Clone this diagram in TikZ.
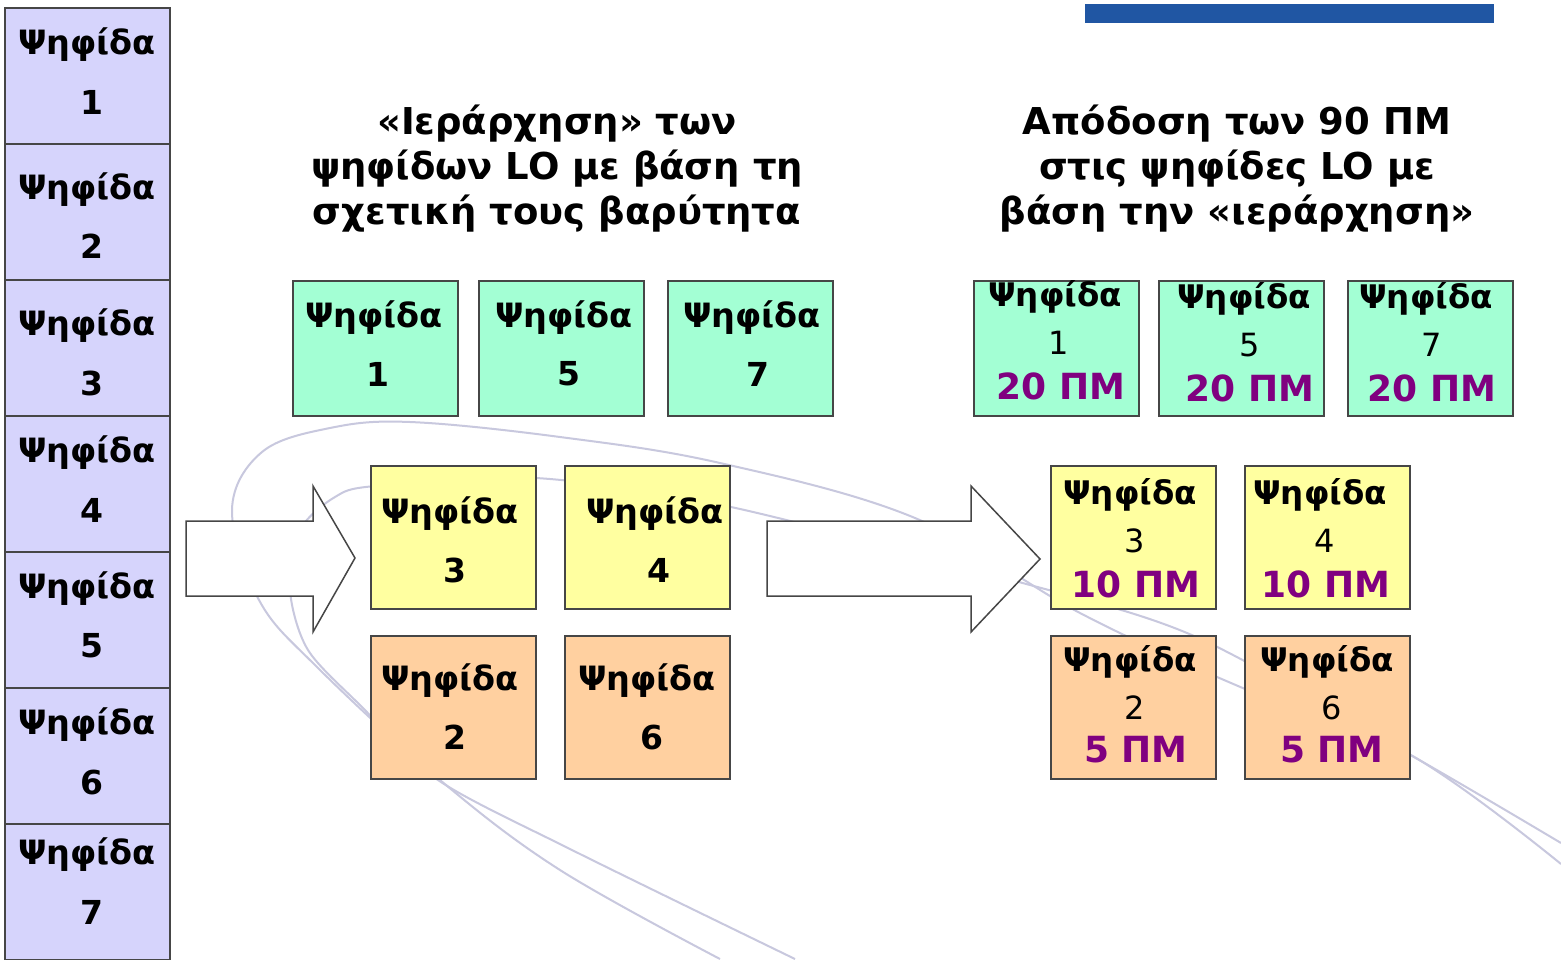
\documentclass[tikz,border=0pt]{standalone}
\usepackage{fontspec}
\setmainfont{DejaVu Sans}
\definecolor{lav}{RGB}{214,212,252}
\definecolor{mint}{RGB}{163,255,212}
\definecolor{lyel}{RGB}{255,255,160}
\definecolor{peach}{RGB}{255,208,160}
\definecolor{pm}{RGB}{128,0,128}
\definecolor{bar}{RGB}{32,86,163}
\definecolor{swoosh}{RGB}{200,200,222}
\definecolor{edge}{RGB}{70,70,70}
\begin{document}
\begin{tikzpicture}[x=1pt,y=-1pt,
  box/.style={draw=edge,line width=2pt,minimum width=165pt,minimum height=135pt,inner sep=0pt},
  lbox/.style={box,fill=lav,minimum height=136pt},
  gbox/.style={box,fill=mint},
  ybox/.style={box,fill=lyel,minimum height=143pt},
  obox/.style={box,fill=peach,minimum height=143pt},
  word/.style={inner sep=0pt,font=\bfseries\fontsize{33.5}{33.5}\selectfont},
  numb/.style={inner sep=0pt,font=\bfseries\fontsize{33}{33}\selectfont},
  rword/.style={inner sep=0pt,font=\bfseries\fontsize{32.5}{32.5}\selectfont},
  rnum/.style={inner sep=0pt,font=\fontsize{32}{32}\selectfont},
  pmtext/.style={inner sep=0pt,text=pm,font=\bfseries\fontsize{36}{36}\selectfont},
  title/.style={inner sep=0pt,align=center,font=\bfseries\fontsize{37}{45}\selectfont},
  blockarrow/.style={draw=edge,fill=white,line width=1.5pt,line join=miter},
  sw/.style={draw=swoosh,line width=2pt}]
\useasboundingbox (0,0) rectangle (1561,959);
\fill[white] (0,0) rectangle (1561,959);
% background swooshes
\draw[sw] plot[smooth,tension=0.6] coordinates {(720,959) (560,870) (440,780) (317,667) (259,600) (232,510) (262,452) (330,428) (410,422) (560,437) (720,463) (915,518) (1080,613) (1238,686) (1409,754) (1561,864)};
\draw[sw] plot[smooth,tension=0.5] coordinates {(795,959) (572,850) (438,780) (362,707) (308,650) (290,590) (300,530) (335,497) (375,486) (536,478) (731,507) (1008,579) (1194,636) (1414,757) (1561,843)};
% blue bar
\fill[bar] (1085,4) rectangle (1494,23);
% left column
\foreach \i/\c/\a/\b in {1/76/45/102,2/212/190/246,3/348/326/383,4/484/453/510,5/620/589/646,6/756/725/782,7/892/855/912}{
  \node[lbox] (L\i) at (87.5,\c) {};
  \node[word] (Lw\i) at (87,\a) {Ψηφίδα};
  \node[numb] (Ln\i) at (92,\b) {\i};
}
% titles
\node[title] (T1) at (557,169) {«Ιεράρχηση» των\\ψηφίδων LO με βάση τη\\σχετική τους βαρύτητα};
\node[title] (T2) at (1237,169) {Απόδοση των 90 ΠΜ\\στις ψηφίδες LO με\\βάση την «ιεράρχηση»};
% middle boxes
\node[gbox] (G1) at (375.5,348.5) {};
\node[gbox] (G5) at (561,348.5) {};
\node[gbox] (G7) at (750,348.5) {};
\node[word] at (374,318) {Ψηφίδα}; \node[numb] at (378,374) {1};
\node[word] at (564,318) {Ψηφίδα}; \node[numb] at (569,374) {5};
\node[word] at (752,318) {Ψηφίδα}; \node[numb] at (758,374) {7};
\node[ybox] (Y3) at (453.5,537.5) {};
\node[ybox] (Y4) at (647,537.5) {};
\node[word] at (450,514) {Ψηφίδα}; \node[numb] at (455,570) {3};
\node[word] at (655,514) {Ψηφίδα}; \node[numb] at (659,570) {4};
\node[obox] (O2) at (453.5,707.5) {};
\node[obox] (O6) at (647,707.5) {};
\node[word] at (450,681) {Ψηφίδα}; \node[numb] at (455,737) {2};
\node[word] at (647,681) {Ψηφίδα}; \node[numb] at (652,737) {6};
% right boxes
\node[gbox] (RG1) at (1056,348.5) {};
\node[gbox] (RG5) at (1241,348.5) {};
\node[gbox] (RG7) at (1430.5,348.5) {};
\foreach \x/\y in {1055/297,1244/299,1426/299}{\node[rword] at (\x,\y) {Ψηφίδα};}
\node[rnum] at (1059,343) {1}; \node[rnum] at (1250,345) {5}; \node[rnum] at (1432,345) {7};
\node[pmtext] at (1061,386) {20 ΠΜ}; \node[pmtext] at (1250,388) {20 ΠΜ}; \node[pmtext] at (1432,388) {20 ΠΜ};
\node[ybox] (RY3) at (1133,537.5) {};
\node[ybox] (RY4) at (1327,537.5) {};
\node[rword] at (1130,495) {Ψηφίδα}; \node[rword] at (1320,495) {Ψηφίδα};
\node[rnum] at (1135,541) {3}; \node[rnum] at (1325,541) {4};
\node[pmtext] at (1136,584) {10 ΠΜ}; \node[pmtext] at (1326,584) {10 ΠΜ};
\node[obox] (RO2) at (1133,707.5) {};
\node[obox] (RO6) at (1327,707.5) {};
\node[rword] at (1130,662) {Ψηφίδα}; \node[rword] at (1327,662) {Ψηφίδα};
\node[rnum] at (1135,708) {2}; \node[rnum] at (1332,708) {6};
\node[pmtext] at (1136,750) {5 ΠΜ}; \node[pmtext] at (1332,750) {5 ΠΜ};
% block arrows
\draw[blockarrow] (186,521) -- (313,521) -- (313,486) -- (355,558) -- (313,632) -- (313,596) -- (186,596) -- cycle;
\draw[blockarrow] (767,521) -- (971,521) -- (971,486) -- (1040,559) -- (971,632) -- (971,596) -- (767,596) -- cycle;
\end{tikzpicture}
\end{document}
